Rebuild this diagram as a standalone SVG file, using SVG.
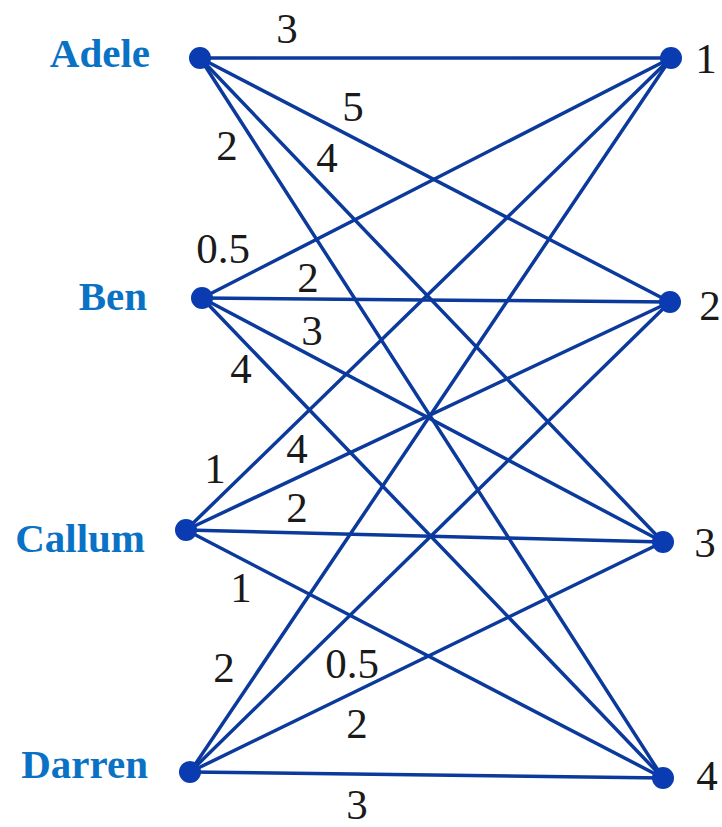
<svg xmlns="http://www.w3.org/2000/svg" width="722" height="827" viewBox="0 0 722 827">
<style>
.e{stroke:#0b3a9c;stroke-width:3.5;fill:none;stroke-linecap:round}
.n{fill:#0a3bb0}
.name{font-family:'Times New Roman','Liberation Serif',serif;font-weight:bold;font-size:41px;fill:#0a72c4;text-anchor:end}
.w{font-family:'Times New Roman','Liberation Serif',serif;font-size:43px;fill:#1a1a1a;text-anchor:middle}
</style>
<rect width="722" height="827" fill="#ffffff"/>
<g id="connectors">
<line class="e" x1="200" y1="58" x2="671" y2="58"/>
<line class="e" x1="200" y1="58" x2="670" y2="302"/>
<line class="e" x1="200" y1="58" x2="663" y2="542"/>
<line class="e" x1="200" y1="58" x2="663" y2="778"/>
<line class="e" x1="202" y1="298" x2="671" y2="58"/>
<line class="e" x1="202" y1="298" x2="670" y2="302"/>
<line class="e" x1="202" y1="298" x2="663" y2="542"/>
<line class="e" x1="202" y1="298" x2="663" y2="778"/>
<line class="e" x1="186" y1="530" x2="671" y2="58"/>
<line class="e" x1="186" y1="530" x2="670" y2="302"/>
<line class="e" x1="186" y1="530" x2="663" y2="542"/>
<line class="e" x1="186" y1="530" x2="663" y2="778"/>
<line class="e" x1="190" y1="772" x2="671" y2="58"/>
<line class="e" x1="190" y1="772" x2="670" y2="302"/>
<line class="e" x1="190" y1="772" x2="663" y2="542"/>
<line class="e" x1="190" y1="772" x2="663" y2="778"/>
</g>
<g id="weights">
<text class="w" x="287" y="43">3</text>
<text class="w" x="353" y="121">5</text>
<text class="w" x="227" y="160">2</text>
<text class="w" x="327" y="172">4</text>
<text class="w" x="223" y="263">0.5</text>
<text class="w" x="308" y="292">2</text>
<text class="w" x="312" y="345">3</text>
<text class="w" x="241" y="383">4</text>
<text class="w" x="215" y="483">1</text>
<text class="w" x="297" y="463">4</text>
<text class="w" x="297" y="522">2</text>
<text class="w" x="241" y="602">1</text>
<text class="w" x="224" y="682">2</text>
<text class="w" x="352" y="678">0.5</text>
<text class="w" x="357" y="738">2</text>
<text class="w" x="357" y="819">3</text>
</g>
<g id="node-adele"><circle class="n" cx="200" cy="58" r="11"/><text class="name" x="150" y="67">Adele</text></g>
<g id="node-ben"><circle class="n" cx="202" cy="298" r="11"/><text class="name" x="147" y="310">Ben</text></g>
<g id="node-callum"><circle class="n" cx="186" cy="530" r="11"/><text class="name" x="145" y="552">Callum</text></g>
<g id="node-darren"><circle class="n" cx="190" cy="772" r="11"/><text class="name" x="148" y="778">Darren</text></g>
<g id="node-1"><circle class="n" cx="671" cy="58" r="11"/><text class="w" x="706" y="73">1</text></g>
<g id="node-2"><circle class="n" cx="670" cy="302" r="11"/><text class="w" x="710" y="320">2</text></g>
<g id="node-3"><circle class="n" cx="663" cy="542" r="11"/><text class="w" x="705" y="557">3</text></g>
<g id="node-4"><circle class="n" cx="663" cy="778" r="11"/><text class="w" x="707" y="790">4</text></g>
</svg>
